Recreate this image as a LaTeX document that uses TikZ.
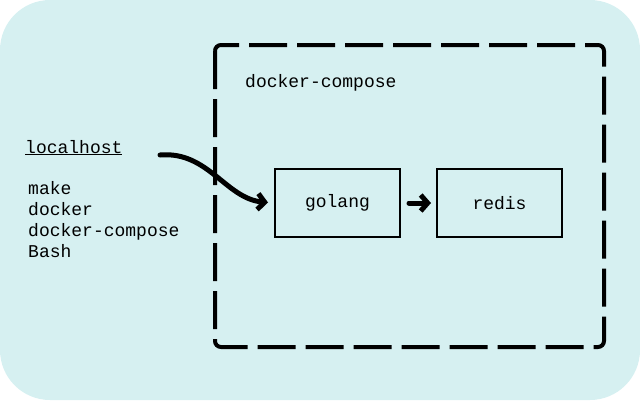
\documentclass[tikz,border=0pt]{standalone}
\usepackage{fontspec}
\setmonofont{Liberation Mono}
\usetikzlibrary{arrows.meta}

\definecolor{bgcyan}{RGB}{214,240,241}

\tikzset{
  svcbox/.style={draw, line width=2pt, minimum width=125pt, minimum height=68pt,
    inner sep=0pt, font=\ttfamily\fontsize{18}{21}\selectfont},
  label/.style={inner sep=0pt, font=\ttfamily\fontsize{18}{21}\selectfont},
  flow/.style={line width=5pt, line cap=round, line join=round,
    -{Straight Barb[length=7pt,width=16pt,line width=5pt]}}
}

\begin{document}
\begin{tikzpicture}[x=1pt,y=-1pt]
  % background
  \fill[bgcyan, rounded corners=50pt] (0,0) rectangle (640,400);

  % compose boundary
  \draw[line width=4pt, dash pattern=on 38pt off 10pt, rounded corners=6pt]
    (215,45) rectangle (604,347);
  \node[label, anchor=base west] (compose) at (245,87) {docker-compose};

  % host side
  \node[label, anchor=base west] (host) at (25,153) {\underline{localhost}};
  \node[label, anchor=base west, align=left] (tools) at (28,257)
    {make\\docker\\docker-compose\\Bash};

  % services
  \node[svcbox] (golang) at (337.5,203) {golang};
  \node[svcbox] (redis) at (499.5,203) {redis};

  \coordinate (src) at (160,155);
  \draw[flow, shorten >=6pt] (src) to[out=5,in=175] (golang.west);
  \draw[flow, shorten <=8pt, shorten >=5pt] (golang.east) -- (redis.west);
\end{tikzpicture}
\end{document}
